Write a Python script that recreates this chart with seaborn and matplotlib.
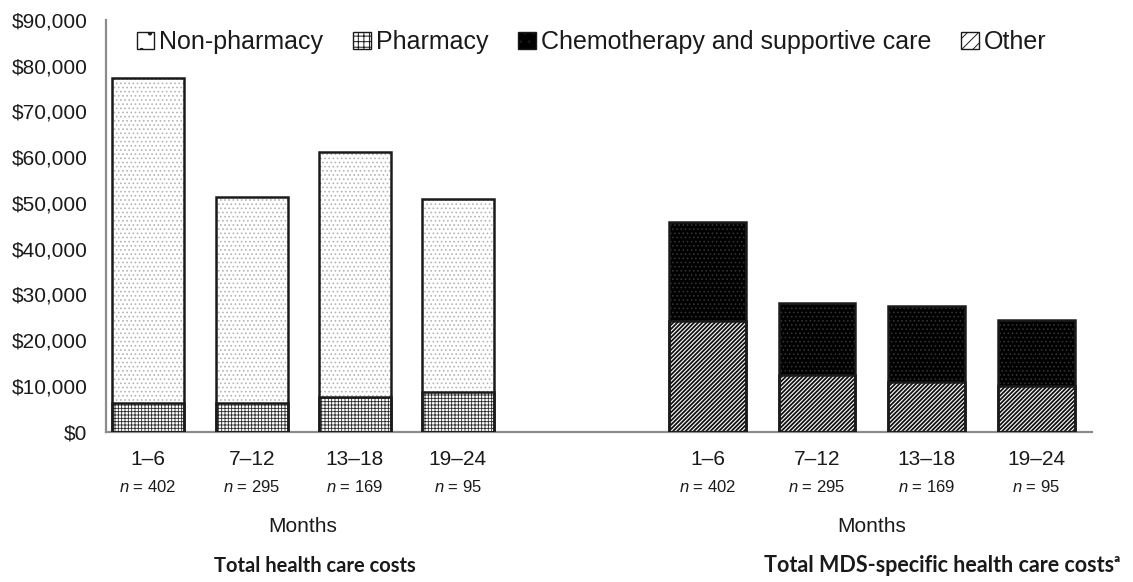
import pandas as pd
import matplotlib
matplotlib.use("Agg")
import matplotlib.pyplot as plt
import matplotlib.patches as mpatches
import matplotlib.transforms as mtransforms
import seaborn as sns

# Data
months = ["1–6", "7–12", "13–18", "19–24"]
n_patients = [402, 295, 169, 95]

# Total health care costs (stacked)
pharmacy = [6300, 6400, 7700, 8700]
non_pharmacy = [70900, 45000, 53500, 42100]

# Total MDS-specific health care costs (stacked)
other = [24200, 12400, 10800, 10100]
chemo_supportive = [21650, 15800, 16700, 14350]

# Layout positions of the two groups on the x axis
left_pos = [0.38, 1.33, 2.27, 3.21]
right_pos = [5.49, 6.49, 7.49, 8.49]

sns.set_style("white")
plt.rcParams["font.family"] = ["Liberation Sans", "DejaVu Sans"]
plt.rcParams["mathtext.fontset"] = "custom"
plt.rcParams["mathtext.it"] = "Liberation Sans:italic"
plt.rcParams["mathtext.rm"] = "Liberation Sans"
plt.rcParams["hatch.linewidth"] = 0.7

rows = []
for i in range(4):
    rows.append(dict(pos=left_pos[i], seg="Non-pharmacy", value=non_pharmacy[i] + pharmacy[i]))
    rows.append(dict(pos=left_pos[i], seg="Pharmacy", value=pharmacy[i]))
    rows.append(dict(pos=right_pos[i], seg="Chemotherapy and supportive care", value=chemo_supportive[i] + other[i]))
    rows.append(dict(pos=right_pos[i], seg="Other", value=other[i]))
df = pd.DataFrame(rows)

styles = {
    "Non-pharmacy": dict(face="white", hatch="....", hcol="#b4b4b4", hlw=0.7),
    "Pharmacy": dict(face="white", hatch="+++++", hcol="#2a2a2a", hlw=0.6),
    "Chemotherapy and supportive care": dict(face="black", hatch="....", hcol="#333333", hlw=0.7),
    "Other": dict(face="white", hatch="////////", hcol="#111111", hlw=1.3),
}

fig = plt.figure(figsize=(11.33, 5.82), dpi=100)
ax = fig.add_axes([0.0936, 0.258, 0.8702, 0.708])

bar_w = 0.66
for seg in ["Non-pharmacy", "Pharmacy", "Chemotherapy and supportive care", "Other"]:
    sub = df[df.seg == seg]
    before = len(ax.patches)
    sns.barplot(data=sub, x="pos", y="value", native_scale=True, width=bar_w / 0.94,
                color="white", ax=ax, errorbar=None)
    st = styles[seg]
    for p in ax.patches[before:]:
        p.set_facecolor(st["face"])
        p.set_hatch(st["hatch"])
        p.set_edgecolor(st["hcol"])
        p.set_linewidth(0)
        if hasattr(p, "set_hatch_linewidth"):
            p.set_hatch_linewidth(st["hlw"])
        # outline on top of the hatched face
        ax.add_patch(mpatches.Rectangle(p.get_xy(), p.get_width(), p.get_height(),
                                        fill=False, edgecolor="#1a1a1a", linewidth=1.8, zorder=3))

ax.set_xlim(0, 9)
ax.set_ylim(0, 90000)
ax.set_yticks(range(0, 90001, 10000))
ax.set_yticklabels([f"${v:,}" for v in range(0, 90001, 10000)], fontsize=15, color="#1a1a1a")
ax.tick_params(axis="y", length=0, pad=13.5)
ax.set_xticks(left_pos + right_pos)
ax.set_xticklabels(months + months, fontsize=15, color="#1a1a1a")
ax.tick_params(axis="x", length=0, pad=13)
ax.set_xlabel("")
ax.set_ylabel("")

for s in ["top", "right"]:
    ax.spines[s].set_visible(False)
for s in ["left", "bottom"]:
    ax.spines[s].set_color("#8c8c8c")
    ax.spines[s].set_linewidth(1.6)

# n = ... labels under the month ranges
trans = mtransforms.blended_transform_factory(ax.transData, fig.transFigure)
for pos, n in zip(left_pos + right_pos, n_patients + n_patients):
    ax.text(pos, 1 - 487 / 582, f"$\\it{{n}}$ = {n}", transform=trans, ha="center", va="center",
            fontsize=12, color="#1a1a1a")

fig.text(303 / 1133, 1 - 527 / 582, "Months", ha="center", va="center", fontsize=15, color="#1a1a1a")
fig.text(872 / 1133, 1 - 527 / 582, "Months", ha="center", va="center", fontsize=15, color="#1a1a1a")

fig.text(315 / 1133, 1 - 566 / 582, "Total health care costs", ha="center", va="center",
         fontsize=14.5, fontweight="bold", family=["Lato", "DejaVu Sans"], color="#1a1a1a")
fig.text(942 / 1133, 1 - 566 / 582, "Total MDS-specific health care costsᵃ", ha="center", va="center",
         fontsize=15.5, fontweight="bold", family=["Lato", "DejaVu Sans"], color="#1a1a1a")

# Legend
legend_hatch = {"Non-pharmacy": ".", "Pharmacy": "+++",
                "Chemotherapy and supportive care": "..", "Other": "///"}
handles = []
for seg, st in styles.items():
    handles.append(mpatches.Patch(facecolor=st["face"], hatch=legend_hatch[seg], edgecolor="#1a1a1a",
                                  linewidth=1.0, label=seg))
fig.legend(handles=handles, loc="center", bbox_to_anchor=(0.522, 1 - 42 / 582), ncol=4,
           frameon=False, fontsize=18, handlelength=0.7, handleheight=0.7,
           handletextpad=0.2, columnspacing=1.2, labelcolor="#1a1a1a")

fig.savefig("out.png", dpi=100)
